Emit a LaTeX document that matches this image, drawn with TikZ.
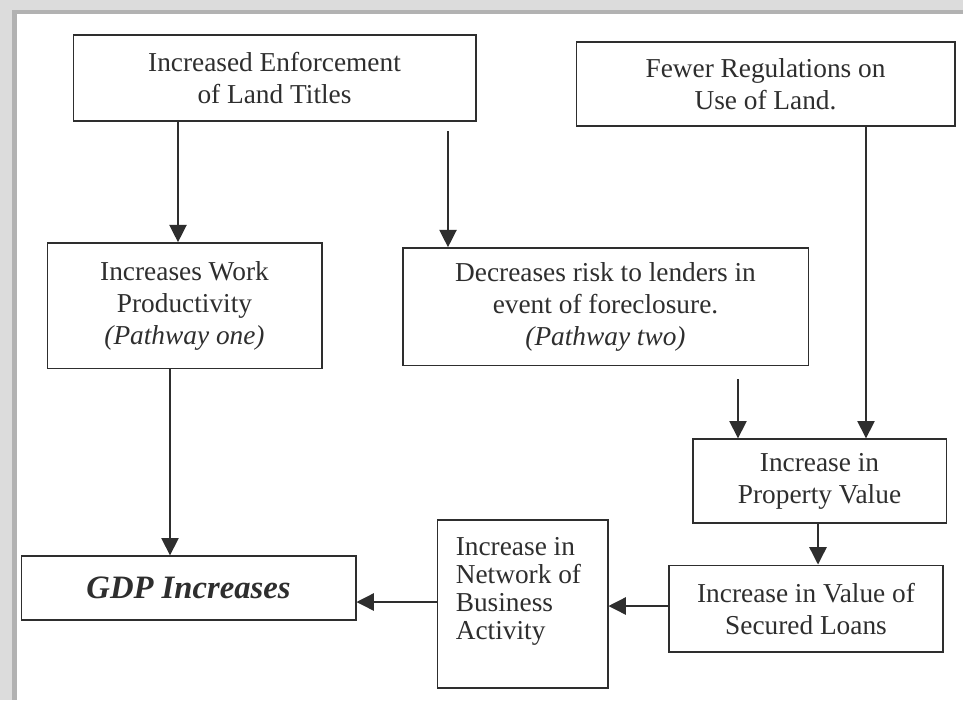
\documentclass[tikz,border=0pt]{standalone}
\usepackage{fontspec}
\setmainfont{Liberation Serif}
\usetikzlibrary{arrows.meta}

\definecolor{ink}{HTML}{2E2E2E}
\definecolor{frameout}{HTML}{DCDCDC}
\definecolor{framein}{HTML}{B2B2B2}

\tikzstyle{box} = [draw=ink, line width=1pt, text=ink, align=center, inner sep=4pt, font=\fontsize{20.5}{24}\selectfont]
\tikzstyle{arr} = [draw=ink, line width=1pt, -{Triangle[width=13pt,length=13pt]}]

\begin{document}
\begin{tikzpicture}[x=0.75pt, y=-0.75pt]
\useasboundingbox (0,0) rectangle (963,700);
\fill[frameout] (0,0) rectangle (963,700);
\fill[framein] (12,10) rectangle (963,700);
\fill[white] (17,14) rectangle (963,700);

\node[box, minimum width=302pt, minimum height=64.5pt] (titles) at (274.5,78)
	{Increased Enforcement\\of Land Titles};
\node[box, minimum width=284pt, minimum height=63pt] (regs) at (765.5,84)
	{Fewer Regulations on\\Use of Land.};
\node[box, minimum width=206pt, minimum height=94pt] (work) at (184.5,305.5)
	{Increases Work\\Productivity\\\textit{(Pathway one)}};
\node[box, minimum width=304pt, minimum height=88pt] (risk) at (605.5,306.5)
	{Decreases risk to lenders in\\event of foreclosure.\\\textit{(Pathway two)}};
\node[box, minimum width=190pt, minimum height=63pt] (property) at (819.5,481)
	{Increase in\\Property Value};
\node[box, minimum width=205.5pt, minimum height=65pt] (loans) at (806,608.5)
	{Increase in Value of\\Secured Loans};
\node[box, align=flush left, text width=100pt, inner xsep=14pt, text depth=87pt,
	font=\fontsize{20.5}{21}\selectfont, minimum width=128pt, minimum height=126pt] (network) at (522.5,604)
	{Increase in\\Network of\\Business\\Activity};
\node[box, minimum width=251pt, minimum height=48pt, font=\fontsize{24.5}{28}\selectfont\bfseries\itshape] (gdp) at (188.5,588)
	{GDP Increases};

\draw[arr] (titles.south -| 178,0) -- (work.north -| 178,0);
\draw[arr, shorten <=7pt] (titles.south -| 448,0) -- (risk.north -| 448,0);
\draw[arr] (regs.south -| 866,0) -- (property.north -| 866,0);
\draw[arr, shorten <=10pt] (risk.south -| 738,0) -- (property.north -| 738,0);
\draw[arr] (work.south -| 170,0) -- (gdp.north -| 170,0);
\draw[arr] (property.south -| 818,0) -- (loans.north -| 818,0);
\draw[arr] (loans.west |- 0,606) -- (network.east |- 0,606);
\draw[arr] (network.west |- 0,602) -- (gdp.east |- 0,602);

\end{tikzpicture}
\end{document}
